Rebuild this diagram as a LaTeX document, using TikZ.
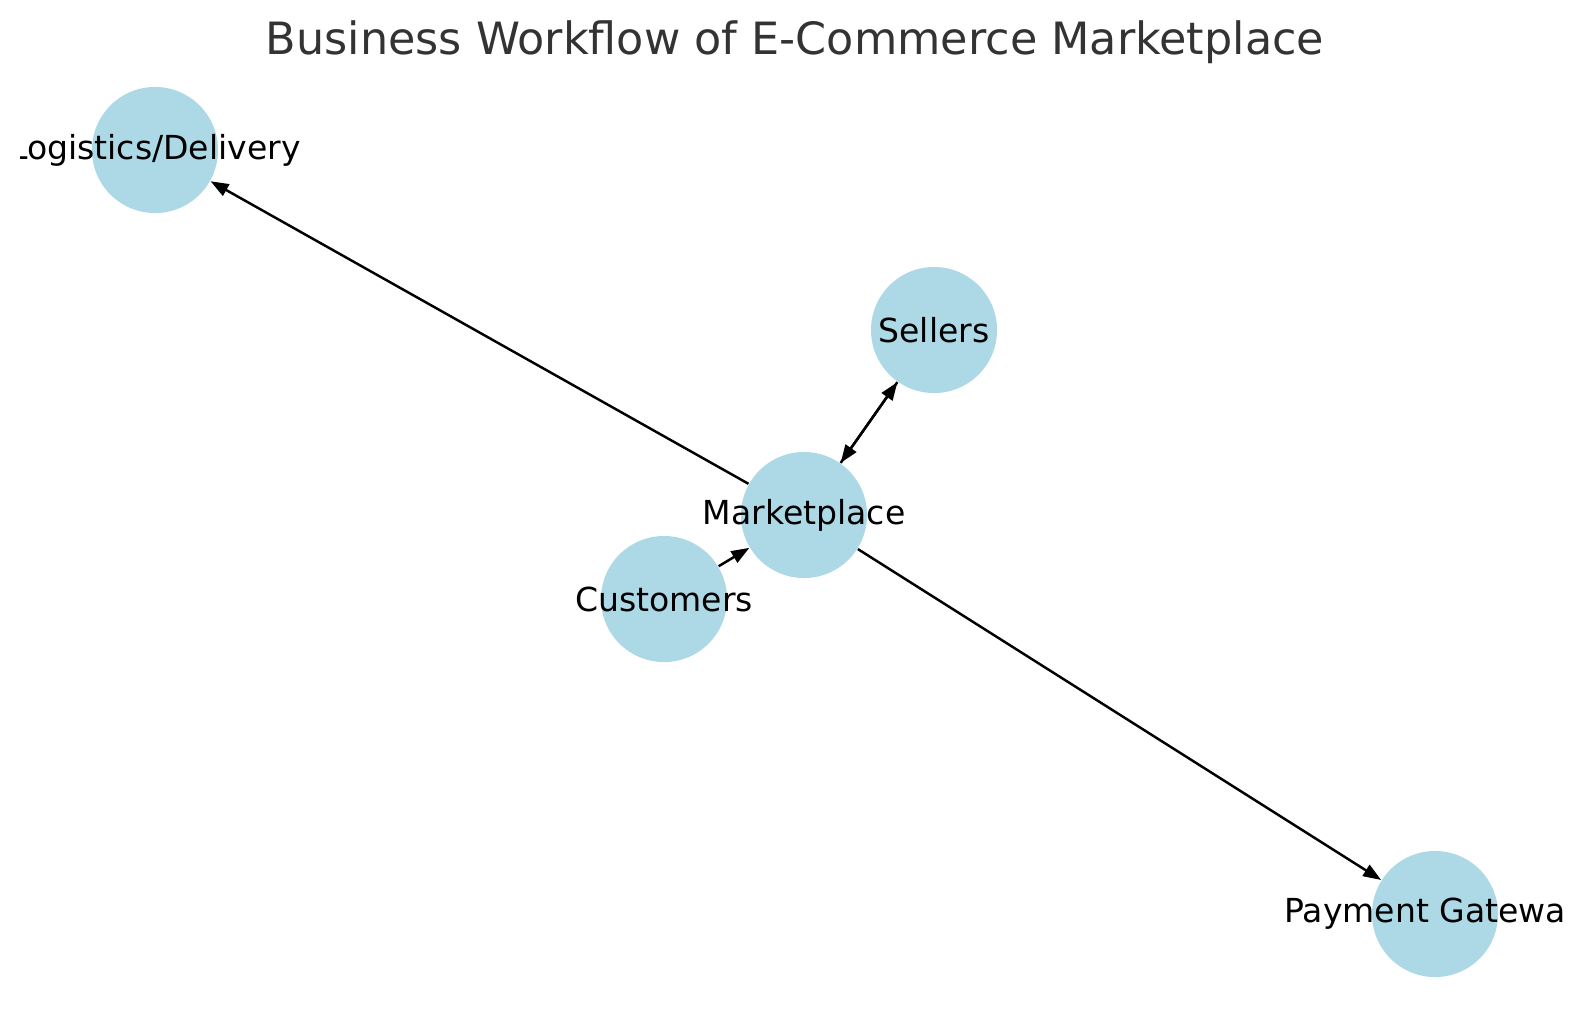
\documentclass[tikz,border=0pt]{standalone}
\usepackage{fontspec}
\setmainfont{DejaVu Sans}
\usetikzlibrary{arrows.meta}
\definecolor{nodeblue}{HTML}{ADD8E6}
\definecolor{titlegrey}{HTML}{333333}
\tikzset{
  actor/.style={circle, fill=nodeblue, minimum size=1.26cm, inner sep=0pt},
  actorlabel/.style={font=\fontsize{9.4}{11}\selectfont, text=black},
  flow/.style={-{Triangle[length=0.18cm, width=0.13cm]}, line width=0.7pt, black},
}

\begin{document}
\begin{tikzpicture}[x=0.01cm, y=-0.01cm]
  \useasboundingbox (0,0) rectangle (1589,1014);
  \node[titlegrey, font=\fontsize{12.65}{15}\selectfont] (title) at (795,42)
    {Business Workflow of E-Commerce Marketplace};
  \begin{scope}
    \clip (20,0) rectangle (1566,1014);
    % parties
    \node[actor, label={[actorlabel]center:Logistics/Delivery}] (logist) at (155,150) {};
    \node[actor, label={[actorlabel]center:Sellers}] (sellers) at (934,330) {};
    \node[actor, label={[actorlabel]center:Marketplace}] (market) at (804,515) {};
    \node[actor, label={[actorlabel]center:Customers}] (cust) at (664,599) {};
    \node[actor, label={[actorlabel]center:Payment Gateway}] (payment) at (1435,914) {};
    % flows
    \draw[flow] (market) -- (logist);
    \draw[flow] (market) -- (sellers);
    \draw[flow] (sellers) -- (market);
    \draw[flow] (cust) -- (market);
    \draw[flow] (market) -- (payment);
  \end{scope}
\end{tikzpicture}
\end{document}
